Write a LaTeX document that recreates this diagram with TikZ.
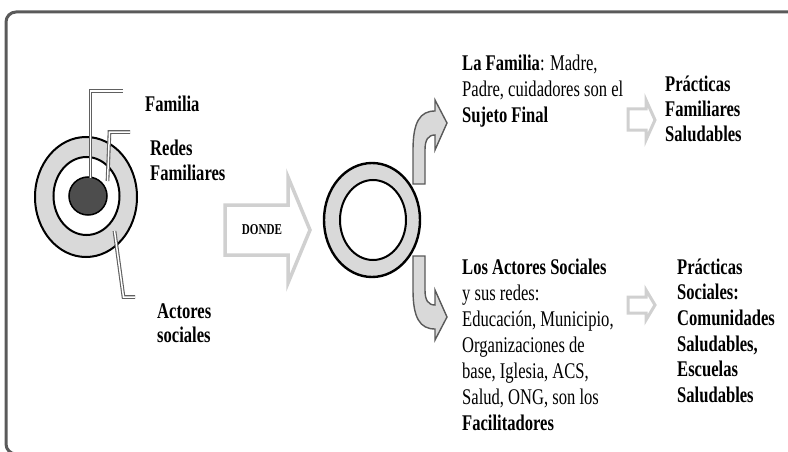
\documentclass[tikz,border=0pt]{standalone}
\usepackage{fontspec}
\setmainfont{Liberation Serif}[FakeStretch=0.74]
\usetikzlibrary{shapes.geometric}
\definecolor{ringgray}{HTML}{D9D9D9}
\definecolor{framegray}{HTML}{5A5A5A}
\definecolor{lightline}{HTML}{D0D0D0}
\definecolor{darkline}{HTML}{5A5A5A}
\definecolor{dotgray}{HTML}{4D4D4D}
\definecolor{leadgray}{HTML}{606060}
\tikzset{
  ringshape/.style={ellipse, draw=black, line width=2pt, fill=ringgray, inner sep=0pt},
  holeshape/.style={ellipse, draw=black, line width=2pt, fill=white, inner sep=0pt},
  leader/.style={draw=leadgray, line width=1.1pt, double=white, double distance=1.5pt, line join=miter},
  bigarrow/.style={draw=lightline, line width=3.5pt, fill=white, line join=miter},
  smallarrow/.style={draw=lightline, line width=3pt, fill=white, line join=miter},
  curvarrow/.style={draw=darkline, line width=1.4pt, fill=ringgray, line join=miter},
  txt/.style={anchor=base west, align=left, inner sep=0pt, font=\fontsize{22.4}{26}\selectfont},
}
\begin{document}
\begin{tikzpicture}[x=1pt,y=-1pt]
\useasboundingbox (0,0) rectangle (788,452);
\clip (0,0) rectangle (788,452);
% frame
\draw[line width=3pt, draw=framegray, rounded corners=10pt] (6,12) rectangle (800,454);

% left target
\node (outerL) [ringshape, minimum width=102pt, minimum height=120pt] at (86,197) {};
\node (innerL) [holeshape, minimum width=66pt, minimum height=78pt] at (86.5,196) {};
\node (dotL) [circle, draw=black, line width=1.5pt, fill=dotgray, minimum size=38pt, inner sep=0pt] at (88,196) {};

% leader lines
\coordinate (fA) at (90.5,178);
\coordinate (fB) at (90.5,91);
\coordinate (fC) at (123,91);
\draw[leader] (fA) -- (fB) -- (fC);
\coordinate (rA) at (107.5,181);
\coordinate (rB) at (109.5,132);
\coordinate (rC) at (130,132);
\draw[leader] (rA) -- (rB) -- (rC);
\coordinate (aA) at (114.5,231);
\coordinate (aB) at (123.5,297);
\coordinate (aC) at (135,297);
\draw[leader] (aA) -- (aB) -- (aC);

% left labels (anchor = baseline of last line)
\node (lblFam) [txt, font=\fontsize{22.4}{26}\selectfont\bfseries] at (145,112) {Familia};
\node (lblRedes) [txt, font=\fontsize{22.4}{25}\selectfont\bfseries] at (150,180) {Redes\\Familiares};
\node (lblAct) [txt, font=\fontsize{22.4}{24}\selectfont\bfseries] at (157,342) {Actores\\sociales};

% DONDE arrow
\coordinate (d1) at (225,205);
\coordinate (d2) at (288,205);
\coordinate (d3) at (288,177);
\coordinate (d4) at (310,230);
\coordinate (d5) at (288,283);
\coordinate (d6) at (288,255);
\coordinate (d7) at (225,255);
\draw[bigarrow] (d1) -- (d2) -- (d3) -- (d4) -- (d5) -- (d6) -- (d7) -- cycle;
\node (donde) [font=\fontsize{15}{15}\selectfont\bfseries, inner sep=0pt] at (262,230) {DONDE};

% curved arrows (behind ring)
\draw[curvarrow] (413,184) -- (413,150) .. controls (413,122) and (420,111) .. (435,111)
  -- (435,100) -- (447,123) -- (435,150) -- (435,135) .. controls (428,135) and (425,140) .. (425,150)
  -- (425,184) -- cycle;
\draw[curvarrow] (413,256) -- (413,290) .. controls (413,318) and (420,329) .. (435,329)
  -- (435,340) -- (447,317) -- (435,290) -- (435,305) .. controls (428,305) and (425,300) .. (425,290)
  -- (425,256) -- cycle;

% middle ring
\node (outerM) [ringshape, line width=2.4pt, minimum width=96pt, minimum height=114pt] at (372,220) {};
\node (innerM) [holeshape, minimum width=66pt, minimum height=80pt] at (373,220) {};

% middle texts
\node (famTxt) [txt, font=\fontsize{22.4}{26.5}\selectfont] at (462,123) {\textbf{La Familia}: Madre,\\Padre, cuidadores son el\\\textbf{Sujeto Final}};
\node (actTxt) [txt, font=\fontsize{22.4}{26}\selectfont] at (462,430) {\textbf{Los Actores Sociales}\\y sus redes:\\Educación, Municipio,\\Organizaciones de\\base, Iglesia, ACS,\\Salud, ONG, son los\\\textbf{Facilitadores}};

% small arrows
\draw[smallarrow] (628,109) -- (646,109) -- (646,100) -- (655,120) -- (646,140) -- (646,130) -- (628,130) -- cycle;
\draw[smallarrow] (628,297) -- (646,297) -- (646,290) -- (655,305) -- (646,320) -- (646,313) -- (628,313) -- cycle;

% right texts
\node (pfTxt) [txt, font=\fontsize{22.4}{25.5}\selectfont\bfseries] at (665,142) {Prácticas\\Familiares\\Saludables};
\node (psTxt) [txt, font=\fontsize{22.4}{25.7}\selectfont\bfseries] at (677,402.5) {Prácticas\\Sociales:\\Comunidades\\Saludables,\\Escuelas\\Saludables};
\end{tikzpicture}
\end{document}
